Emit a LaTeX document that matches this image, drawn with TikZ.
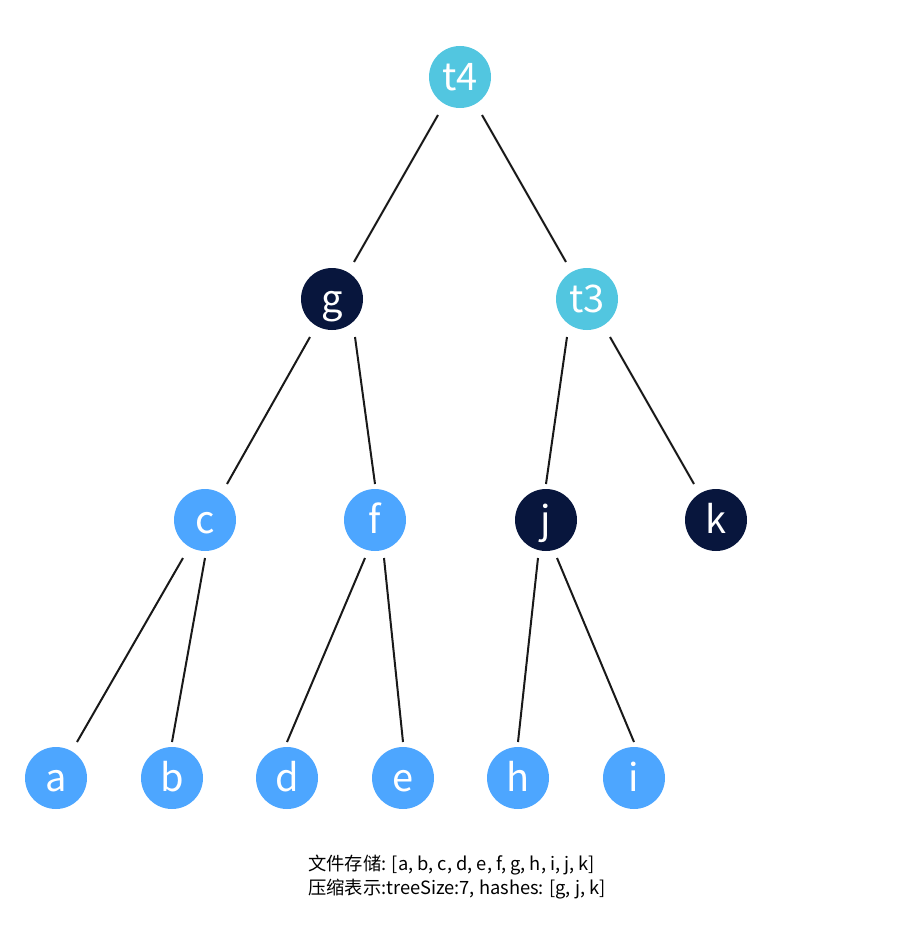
\documentclass[tikz,border=0pt]{standalone}
\usepackage{fontspec}
\setmainfont{Noto Sans CJK SC}
\usetikzlibrary{calc}
\definecolor{leafblue}{HTML}{4DA6FF}
\definecolor{rootcyan}{HTML}{52C6E0}
\definecolor{hashnavy}{HTML}{08163D}

\begin{document}
\begin{tikzpicture}[x=1pt,y=-1pt,
  vert/.style={circle,minimum size=62pt,inner sep=0pt,text=white,text height=26pt,text depth=0pt,font=\fontsize{38}{38}\selectfont},
  leaf/.style={vert,fill=leafblue},
  roothash/.style={vert,fill=rootcyan},
  hashed/.style={vert,fill=hashnavy},
  link/.style={line width=2pt,black!90},
  note/.style={anchor=base west,inner sep=0pt,font=\fontsize{18.3}{24}\selectfont}]
\useasboundingbox (0,0) rectangle (910,942);
\node [roothash] (t4) at (460,77) {t4};
\node [hashed] (g) at (332,299) {g};
\node [roothash] (t3) at (587,299) {t3};
\node [leaf] (c) at (205,520) {c};
\node [leaf] (f) at (375,520) {f};
\node [hashed] (j) at (546,520) {j};
\node [hashed] (k) at (716,520) {k};
\node [leaf] (a) at (56,778) {a};
\node [leaf] (b) at (172,778) {b};
\node [leaf] (d) at (287,778) {d};
\node [leaf] (e) at (403,778) {e};
\node [leaf] (h) at (518,778) {h};
\node [leaf] (i) at (634,778) {i};
\draw[link] ($(t4)+(-22,38)$) -- ($(g)+(22,-37)$);
\draw[link] ($(t4)+(22,38)$) -- ($(t3)+(-21,-37)$);
\draw[link] ($(g)+(-22,38)$) -- ($(c)+(22,-36)$);
\draw[link] ($(g)+(23,38)$) -- ($(f)+(0,-36)$);
\draw[link] ($(t3)+(-20,38)$) -- ($(j)+(0,-36)$);
\draw[link] ($(t3)+(23,38)$) -- ($(k)+(-22,-36)$);
\draw[link] ($(c)+(-22,38)$) -- ($(a)+(21,-36)$);
\draw[link] ($(c)+(0,38)$) -- ($(b)+(0,-36)$);
\draw[link] ($(f)+(-10,38)$) -- ($(d)+(0,-36)$);
\draw[link] ($(f)+(9,38)$) -- ($(e)+(0,-36)$);
\draw[link] ($(j)+(-8,38)$) -- ($(h)+(0,-36)$);
\draw[link] ($(j)+(11,38)$) -- ($(i)+(0,-36)$);
\node [note] (store) at (308,870) {文件存储: [a, b, c, d, e, f, g, h, i, j, k]};
\node [note] (packed) at (308,894) {压缩表示:treeSize:7, hashes: [g, j, k]};
\end{tikzpicture}
\end{document}
